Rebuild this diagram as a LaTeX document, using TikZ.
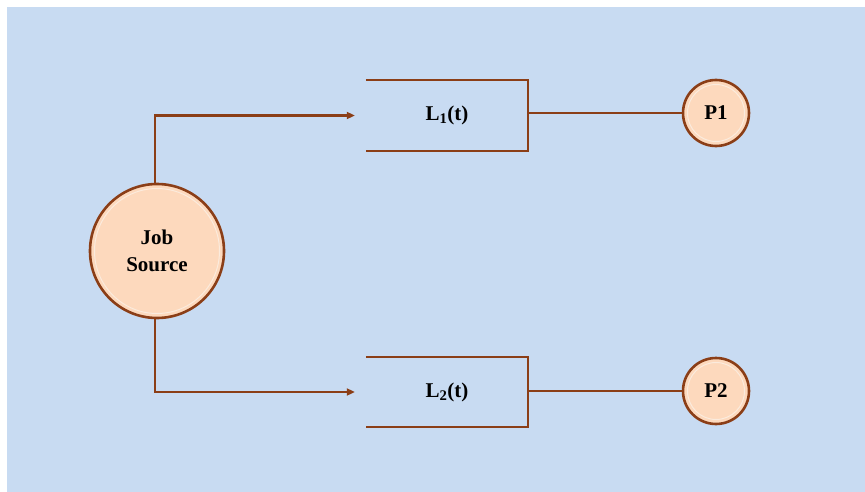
\documentclass[tikz,border=0pt]{standalone}
\usepackage{fontspec}
\setmainfont{Liberation Serif}
\usetikzlibrary{arrows.meta}
\definecolor{bgblue}{HTML}{C8DBF2}
\definecolor{linebrown}{HTML}{8B3E17}
\definecolor{peach}{HTML}{FDD9BD}
\definecolor{rimlight}{HTML}{FBEBDD}
\tikzset{
  wire/.style={draw=linebrown, line width=2.2pt},
  feed/.style={wire, -{Triangle[length=8pt,width=7pt]}, shorten >=11pt},
  station/.style={circle, fill=peach, draw=linebrown, line width=2.6pt,
    inner sep=0pt, align=center, font=\fontsize{21}{27}\selectfont\bfseries},
  queuebox/.style={minimum width=162pt, minimum height=70pt, inner sep=0pt,
    font=\fontsize{21}{24}\selectfont\bfseries},
  rim/.style={draw=rimlight, line width=1pt}
}
\begin{document}
\begin{tikzpicture}[x=1pt, y=-1pt]
  % canvas
  \useasboundingbox (0,0) rectangle (865,492);
  \fill[white] (0,0) rectangle (865,492);
  \fill[bgblue] (7,7) rectangle (865,492);

  % source and processors
  \node[station, minimum size=134pt] (src) at (157,251) {Job\\Source};
  \node[station, minimum size=66pt] (p1) at (716,113) {P1};
  \node[station, minimum size=66pt] (p2) at (716,391) {P2};
  \draw[rim] (src.center) circle[radius=62.5pt];
  \draw[rim] (p1.center) circle[radius=28.5pt];
  \draw[rim] (p2.center) circle[radius=28.5pt];

  % queues, open on the left
  \node[queuebox] (q1) at (447,115.5) {L\textsubscript{1}(t)};
  \node[queuebox] (q2) at (447,392) {L\textsubscript{2}(t)};
  \foreach \q in {q1,q2}{
    \draw[wire, line join=miter] (\q.north west) -- (\q.north east) -- (\q.south east) -- (\q.south west);
  }

  % connectors
  \draw[feed] (src.north -| 155,0) |- (q1.west);
  \draw[feed] (src.south -| 155,0) |- (q2.west);
  \draw[wire] (q1.east |- p1.west) -- (p1.west);
  \draw[wire] (q2.east |- p2.west) -- (p2.west);
\end{tikzpicture}
\end{document}
